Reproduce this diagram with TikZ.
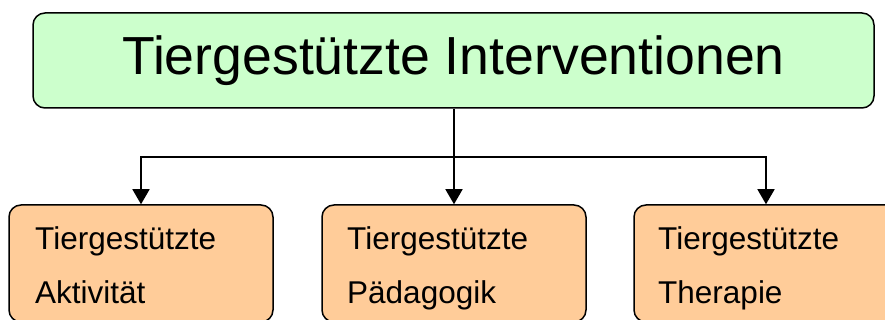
\documentclass[tikz,border=0pt]{standalone}
\usepackage{fontspec}
\setmainfont{Liberation Sans}
\usetikzlibrary{arrows.meta}
\definecolor{topgreen}{HTML}{CCFFCC}
\definecolor{boxorange}{HTML}{FFCC99}
\tikzset{
  topbox/.style={draw=black, line width=1.5pt, fill=topgreen, rounded corners=12pt,
    minimum width=841pt, minimum height=95pt, inner sep=0pt, text height=29pt, text depth=0pt,
    font=\fontsize{53.6}{60}\selectfont},
  subbox/.style={draw=black, line width=1.5pt, fill=boxorange, rounded corners=12pt,
    minimum width=264pt, minimum height=117pt, inner sep=0pt},
  linetext/.style={anchor=base west, inner sep=0pt, font=\fontsize{31.5}{36}\selectfont},
  conn/.style={draw=black, line width=1.5pt},
  arr/.style={conn, -{Triangle[width=17pt,length=15pt]}}
}
\begin{document}
\begin{tikzpicture}[x=1pt,y=-1pt]
\useasboundingbox (0,0) rectangle (885,320);
\clip (0,0) rectangle (885,320);
\node[topbox] (top) at (453.5,60.5) {Tiergestützte Interventionen};
\node[subbox] (b1) at (141,263.5) {};
\node[subbox] (b2) at (454,263.5) {};
\node[subbox] (b3) at (766,263.5) {};
\node[linetext] (t1a) at (35,249) {Tiergestützte};
\node[linetext] (t1b) at (35,303) {Aktivität};
\node[linetext] (t2a) at (347,249) {Tiergestützte};
\node[linetext] (t2b) at (347,303) {Pädagogik};
\node[linetext] (t3a) at (658,249) {Tiergestützte};
\node[linetext] (t3b) at (658,303) {Therapie};
\coordinate (j) at (454,157);
\draw[arr] (top.south -| b2.north) -- (b2.north);
\draw[arr] (j) -| (b1.north);
\draw[arr] (j) -| (b3.north);
\end{tikzpicture}
\end{document}
